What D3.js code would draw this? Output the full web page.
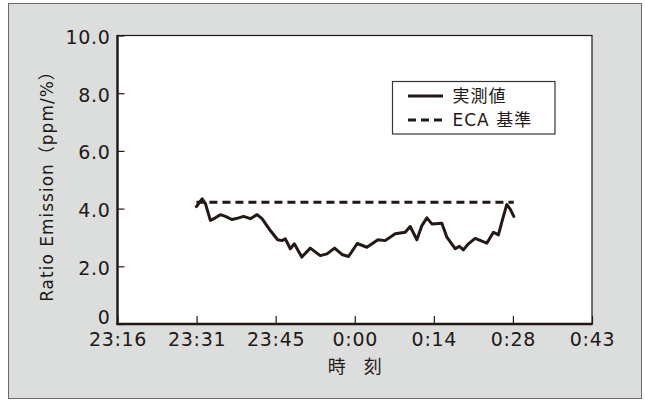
<!DOCTYPE html>
<html>
<head>
<meta charset="utf-8">
<script src="https://cdn.jsdelivr.net/npm/d3@7"></script>
<style>
  body { margin: 0; background: #fff; }
  text { font-family: "DejaVu Sans", "Noto Sans CJK JP", sans-serif; fill: #231815; }
  .cjk { font-family: "Noto Sans CJK JP", sans-serif; }
</style>
</head>
<body>
<svg id="chart" width="645" height="400"></svg>
<script>
// Time axis: minutes after 23:16, with the printed clock labels
const tickMinutes = [0, 14.5, 29, 43.5, 58, 72.5, 87];
const tickLabels = ["23:16", "23:31", "23:45", "0:00", "0:14", "0:28", "0:43"];
const yTicks = [0, 2, 4, 6, 8, 10];

// Measured emission ratio (ppm/%) over time
const minutes = [14.47, 15.51, 16.12, 17.03, 17.95, 18.86, 19.78, 21.01, 22.22, 23.13,
  24.36, 25.59, 26.50, 28.02, 29.36, 30.16, 30.77, 31.69, 32.42, 33.79,
  35.35, 37.18, 38.41, 39.80, 41.15, 42.36, 43.96, 45.73, 47.75, 49.08,
  50.92, 52.75, 53.66, 54.89, 55.81, 56.72, 57.64, 59.47, 60.39, 61.91,
  62.69, 63.42, 64.34, 65.57, 67.71, 68.92, 69.84, 70.46, 71.37, 71.98, 72.66];
const ratio = [4.07, 4.34, 4.17, 3.59, 3.68, 3.79, 3.73, 3.62, 3.68, 3.73,
  3.65, 3.79, 3.65, 3.24, 2.92, 2.89, 2.95, 2.61, 2.78, 2.32,
  2.63, 2.37, 2.43, 2.63, 2.41, 2.34, 2.79, 2.66, 2.92, 2.89,
  3.13, 3.18, 3.38, 2.92, 3.41, 3.68, 3.47, 3.49, 3.01, 2.61,
  2.69, 2.57, 2.78, 2.97, 2.80, 3.18, 3.09, 3.53, 4.14, 3.99, 3.73];

// ECA limit
const ecaLimit = 4.22;
const seriesNames = ["実測値", "ECA 基準"];

const ink = "#231815";
const svg = d3.select("#chart");

const plot = { left: 117.5, right: 592, top: 35.5, bottom: 324 };
const x = d3.scaleLinear().domain([0, 87]).range([plot.left, plot.right]);
const y = d3.scaleLinear().domain([0, 10]).range([plot.bottom, plot.top]);

// Outer panel
svg.append("rect")
  .attr("x", 8.5).attr("y", 3.5).attr("width", 633).attr("height", 395)
  .attr("fill", "#dcdddd").attr("stroke", "#6b6b6b").attr("stroke-width", 1);

// Plot area
svg.append("rect")
  .attr("x", plot.left).attr("y", plot.top)
  .attr("width", plot.right - plot.left).attr("height", plot.bottom - plot.top)
  .attr("fill", "#fff").attr("stroke", ink).attr("stroke-width", 1.2);

// X axis
const xAxis = svg.append("g")
  .attr("transform", `translate(0,${plot.bottom})`)
  .call(d3.axisBottom(x)
    .tickValues(tickMinutes)
    .tickFormat((d, i) => tickLabels[i])
    .tickSizeInner(-8).tickSizeOuter(0).tickPadding(9));
xAxis.select(".domain").remove();
xAxis.selectAll(".tick line").attr("stroke", ink).attr("stroke-width", 1.2);
xAxis.selectAll(".tick text")
  .attr("fill", ink).style("font-size", "19px").style("letter-spacing", "0.7px");

// Y axis
const yAxis = svg.append("g")
  .attr("transform", `translate(${plot.left},0)`)
  .call(d3.axisLeft(y)
    .tickValues(yTicks)
    .tickFormat(d => d === 0 ? "0" : d3.format(".1f")(d))
    .tickSizeInner(-7).tickSizeOuter(0).tickPadding(7));
yAxis.select(".domain").remove();
yAxis.selectAll(".tick line").attr("stroke", ink).attr("stroke-width", 1.2);
yAxis.selectAll(".tick text")
  .attr("fill", ink).style("font-size", "19px").style("letter-spacing", "0.7px")
  .attr("dy", d => d === 0 ? "-0.05em" : "0.42em");

// Heavy left and bottom axis lines
svg.append("line")
  .attr("x1", plot.left).attr("x2", plot.left)
  .attr("y1", plot.top - 0.5).attr("y2", plot.bottom + 1)
  .attr("stroke", ink).attr("stroke-width", 2.4);
svg.append("line")
  .attr("x1", plot.left - 1).attr("x2", plot.right + 0.5)
  .attr("y1", plot.bottom).attr("y2", plot.bottom)
  .attr("stroke", ink).attr("stroke-width", 2.4);

// Axis titles
svg.append("text")
  .attr("transform", `translate(53,182) rotate(-90)`)
  .attr("text-anchor", "middle")
  .style("font-size", "17px").style("letter-spacing", "1px")
  .text("Ratio Emission（ppm/%）");

svg.append("text")
  .attr("class", "cjk")
  .attr("x", x(43.5)).attr("y", 373)
  .attr("text-anchor", "middle")
  .style("font-size", "18px")
  .text("時　刻");

// ECA limit line
svg.append("line")
  .attr("x1", x(minutes[0])).attr("x2", x(minutes[minutes.length - 1]))
  .attr("y1", y(ecaLimit)).attr("y2", y(ecaLimit))
  .attr("stroke", ink).attr("stroke-width", 3)
  .attr("stroke-dasharray", "8,5");

// Measured series
const line = d3.line().x(d => x(d[0])).y(d => y(d[1]));
svg.append("path")
  .datum(minutes.map((m, i) => [m, ratio[i]]))
  .attr("d", line)
  .attr("fill", "none").attr("stroke", ink)
  .attr("stroke-width", 3).attr("stroke-linejoin", "round").attr("stroke-linecap", "round");

// Legend
const legend = svg.append("g");
legend.append("rect")
  .attr("x", 392.5).attr("y", 81.5).attr("width", 162.5).attr("height", 52.5)
  .attr("fill", "#fff").attr("stroke", "#3a3533").attr("stroke-width", 1.2);
const rows = [
  { name: seriesNames[0], y: 96, dash: null },
  { name: seriesNames[1], y: 120, dash: "8,5" }
];
rows.forEach(r => {
  legend.append("line")
    .attr("x1", 408).attr("x2", 443).attr("y1", r.y).attr("y2", r.y)
    .attr("stroke", ink).attr("stroke-width", 3)
    .attr("stroke-dasharray", r.dash);
  legend.append("text")
    .attr("x", 452.5).attr("y", r.y)
    .attr("dominant-baseline", "central")
    .style("font-size", "17px").style("letter-spacing", "1px")
    .text(r.name);
});
</script>
</body>
</html>
